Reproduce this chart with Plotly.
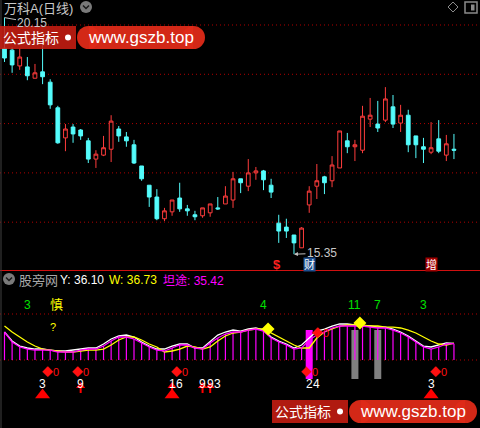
import plotly.graph_objects as go

W, H = 480, 428

# ---------------- data ----------------
idx = list(range(60))
opens = [19.53, 19.49, 19.17, 19.15, 18.92, 19.05, 18.84, 18.32, 17.71, 17.93,
         17.87, 17.65, 17.28, 17.36, 17.48, 17.89, 17.73, 17.57, 17.14, 16.75,
         16.51, 16.07, 16.21, 16.49, 16.27, 16.15, 16.13, 16.19, 16.29, 16.37,
         16.45, 16.88, 16.73, 17.00, 17.04, 16.75, 15.98, 15.90, 15.74, 15.48,
         16.35, 16.73, 16.92, 16.84, 17.10, 17.65, 17.53, 17.46, 18.09, 17.99,
         18.07, 18.34, 18.01, 18.17, 17.75, 17.53, 17.42, 17.69, 17.36, 17.48]
highs = [20.15, 19.55, 19.53, 19.35, 19.21, 19.59, 18.90, 18.36, 17.99, 17.99,
         17.89, 17.71, 17.46, 17.75, 18.17, 17.95, 17.83, 17.67, 17.14, 16.75,
         16.67, 16.29, 16.45, 16.80, 16.35, 16.23, 16.29, 16.37, 16.51, 16.73,
         17.02, 16.88, 17.28, 17.12, 17.06, 16.88, 16.15, 16.07, 15.74, 15.90,
         16.73, 17.18, 16.94, 17.34, 17.85, 17.81, 17.67, 18.36, 18.52, 18.46,
         18.74, 18.58, 18.38, 18.28, 17.75, 17.71, 18.03, 18.07, 17.77, 17.79]
lows = [19.25, 19.03, 19.09, 18.88, 18.92, 18.80, 18.30, 17.59, 17.44, 17.61,
        17.67, 17.20, 17.10, 17.34, 17.22, 17.63, 17.53, 17.18, 16.84, 16.31,
        16.04, 16.02, 16.13, 16.21, 16.13, 16.04, 16.09, 16.11, 16.25, 16.37,
        16.29, 16.59, 16.63, 16.86, 16.65, 16.49, 15.58, 15.68, 15.35, 15.48,
        16.19, 16.47, 16.57, 16.71, 17.10, 17.40, 17.24, 17.40, 17.93, 17.83,
        18.03, 17.91, 17.83, 17.42, 17.30, 17.20, 17.38, 17.40, 17.24, 17.28]
closes = [19.33, 19.19, 19.35, 18.97, 19.03, 18.95, 18.38, 17.61, 17.89, 17.79,
          17.75, 17.28, 17.38, 17.51, 18.05, 17.75, 17.65, 17.20, 16.88, 16.51,
          16.07, 16.23, 16.45, 16.27, 16.23, 16.11, 16.29, 16.37, 16.27, 16.53,
          16.88, 16.80, 17.00, 17.04, 16.86, 16.61, 15.82, 15.82, 15.58, 15.88,
          16.63, 16.84, 16.80, 17.16, 17.85, 17.53, 17.57, 18.15, 18.17, 17.91,
          18.50, 17.99, 18.17, 17.57, 17.57, 17.48, 17.51, 17.44, 17.59, 17.46]
price_grid = [20, 19, 18, 17, 16]
high_label = 20.15
low_label = 15.35

line_Y = [60.9, 41.3, 30.4, 26.1, 23.9, 23.9, 21.7, 19.6, 19.6, 21.7, 23.9, 26.1, 26.1, 34.8, 45.7,
          52.2, 54.3, 50.0, 39.1, 30.4, 23.9, 23.9, 30.4, 34.8, 34.8, 26.1, 26.1, 41.3, 54.3, 60.9,
          65.2, 63.0, 67.4, 69.6, 65.2, 50.0, 41.3, 34.8, 26.1, 32.6, 47.8, 63.0, 67.4, 73.9, 78.3,
          78.3, 76.1, 73.9, 73.9, 71.7, 71.7, 67.4, 60.9, 52.2, 41.3, 30.4, 28.3, 32.6, 37.0, 36.10]
line_W = [73.9, 60.9, 50.0, 39.1, 30.4, 23.9, 21.7, 19.6, 17.4, 17.4, 19.6, 21.7, 21.7, 23.9, 32.6,
          43.5, 50.0, 50.0, 43.5, 34.8, 28.3, 17.4, 19.6, 23.9, 30.4, 28.3, 23.9, 28.3, 41.3, 52.2,
          58.7, 60.9, 65.2, 67.4, 67.4, 58.7, 50.0, 41.3, 32.6, 26.1, 26.1, 47.8, 60.9, 67.4, 73.9,
          76.1, 76.1, 76.1, 73.9, 73.9, 71.7, 71.7, 69.6, 65.2, 58.7, 50.0, 41.3, 34.8, 32.6, 36.73]
line_T = [60.9, 39.1, 28.3, 23.9, 21.7, 21.7, 21.7, 17.4, 17.4, 17.4, 21.7, 23.9, 23.9, 30.4, 41.3,
          50.0, 50.0, 45.7, 37.0, 28.3, 21.7, 19.6, 26.1, 32.6, 32.6, 26.1, 23.9, 37.0, 47.8, 56.5,
          60.9, 60.9, 65.2, 67.4, 63.0, 47.8, 39.1, 32.6, 23.9, 26.1, 43.5, 54.3, 60.9, 69.6, 73.9,
          73.9, 73.9, 73.9, 71.7, 69.6, 69.6, 65.2, 58.7, 50.0, 39.1, 28.3, 23.9, 28.3, 34.8, 35.42]
ind_levels = [100, 0]

mag_bar_x = [40]
gray_bar_x = [46, 49]
bar_top = 65.2
bar_bottom = -41.3

green_x = [3, 34, 46, 49, 55]
green_txt = ["3", "4", "11", "7", "3"]
green_v = 119.6

sig_x = [6, 10, 23, 40, 57]
sig_v = -26.1
white_x = [5, 10, 22, 23, 26, 27, 28, 40, 41, 56]
white_txt = ["3", "9", "1", "6", "9", "9", "3", "2", "4", "3"]
white_v = -52.2
tri_x = [5, 22, 56]
tri_v = -76.1
arrow_x = [10, 22, 26, 27]
arrow_v = -58.7
ydiam_x = [34.6, 46.65]
ydiam_v = [67.4, 80.4]

# ---------------- helpers ----------------
def px(x):
    return x / W


def py(y):
    return 1 - y / H


CYAN = "#54fcfc"
RED = "#ff3c3c"
GRID = "#b00000"
FONT = "Liberation Sans, Noto Sans CJK SC, sans-serif"

fig = go.Figure()

fig.add_trace(go.Candlestick(
    x=idx, open=opens, high=highs, low=lows, close=closes,
    increasing=dict(line=dict(color=RED, width=1), fillcolor="#000000"),
    decreasing=dict(line=dict(color=CYAN, width=1), fillcolor=CYAN),
    whiskerwidth=0, xaxis="x", yaxis="y", showlegend=False, hoverinfo="skip"))

# sticks
xs, ys = [], []
for i, v in zip(idx, line_T):
    xs += [i, i, None]
    ys += [0, v, None]
fig.add_trace(go.Scatter(x=xs, y=ys, mode="lines", line=dict(color="#ff00ff", width=1.2),
                         xaxis="x2", yaxis="y2", showlegend=False, hoverinfo="skip"))
fig.add_trace(go.Bar(x=mag_bar_x, y=[bar_top - bar_bottom] * len(mag_bar_x), base=bar_bottom,
                     width=0.92, marker=dict(color="#ff00ff", line=dict(width=0)),
                     xaxis="x2", yaxis="y2", showlegend=False, hoverinfo="skip"))
fig.add_trace(go.Bar(x=gray_bar_x, y=[bar_top - bar_bottom] * len(gray_bar_x), base=bar_bottom,
                     width=0.92, marker=dict(color="#808080", line=dict(width=0)),
                     xaxis="x2", yaxis="y2", showlegend=False, hoverinfo="skip"))
fig.add_trace(go.Scatter(x=idx, y=line_Y, mode="lines", line=dict(color="#ffffff", width=1.3),
                         xaxis="x2", yaxis="y2", showlegend=False, hoverinfo="skip"))
fig.add_trace(go.Scatter(x=idx, y=line_W, mode="lines", line=dict(color="#ffff00", width=1.3),
                         xaxis="x2", yaxis="y2", showlegend=False, hoverinfo="skip"))
fig.add_trace(go.Scatter(x=idx, y=line_T, mode="lines", line=dict(color="#ff00ff", width=1.3),
                         xaxis="x2", yaxis="y2", showlegend=False, hoverinfo="skip"))
# yellow diamonds
fig.add_trace(go.Scatter(x=ydiam_x, y=ydiam_v, mode="markers",
                         marker=dict(symbol="diamond", size=10, color="#ffff00"),
                         xaxis="x2", yaxis="y2", showlegend=False, hoverinfo="skip"))
# red triangles
fig.add_trace(go.Scatter(x=tri_x, y=[tri_v] * len(tri_x), mode="markers",
                         marker=dict(symbol="triangle-up", size=13, color="#ff0000"),
                         xaxis="x2", yaxis="y2", showlegend=False, hoverinfo="skip"))
# small arrows (stem + head)
axs, ays = [], []
for i in arrow_x:
    axs += [i, i, None]
    ays += [arrow_v, arrow_v - 13, None]
fig.add_trace(go.Scatter(x=axs, y=ays, mode="lines", line=dict(color="#ff0000", width=2),
                         xaxis="x2", yaxis="y2", showlegend=False, hoverinfo="skip"))
fig.add_trace(go.Scatter(x=arrow_x, y=[arrow_v + 2] * len(arrow_x), mode="markers",
                         marker=dict(symbol="triangle-up", size=8, color="#ff0000"),
                         xaxis="x2", yaxis="y2", showlegend=False, hoverinfo="skip"))

shapes = []
for p in price_grid:
    shapes.append(dict(type="line", xref="paper", yref="y", x0=0, x1=1, y0=p, y1=p,
                       line=dict(color=GRID, width=1, dash="1px,3px"), layer="below"))
for v in ind_levels:
    shapes.append(dict(type="line", xref="paper", yref="y2", x0=0, x1=1, y0=v, y1=v,
                       line=dict(color=GRID, width=1, dash="1px,3px"), layer="below"))
# separator and left border
shapes.append(dict(type="line", xref="paper", yref="paper", x0=0, x1=1, y0=py(270.5), y1=py(270.5),
                   line=dict(color="#d01010", width=1)))
shapes.append(dict(type="line", xref="paper", yref="paper", x0=px(1), x1=px(1), y0=0, y1=1,
                   line=dict(color="#404040", width=1)))


def circ(cx, cy, r, **kw):
    shapes.append(dict(type="circle", xref="paper", yref="paper",
                       x0=px(cx - r), x1=px(cx + r), y0=py(cy + r), y1=py(cy - r), **kw))


def rect(x0, y0, x1, y1, **kw):
    shapes.append(dict(type="rect", xref="paper", yref="paper",
                       x0=px(x0), x1=px(x1), y0=py(y1), y1=py(y0), **kw))


def pline(pts, color, width=1.5):
    path = "M" + " L".join(f"{px(a)},{py(b)}" for a, b in pts)
    shapes.append(dict(type="path", xref="paper", yref="paper", path=path,
                       line=dict(color=color, width=width)))


# icons
circ(86, 7, 6, fillcolor="#7a7a7a", line=dict(width=0))
pline([(83, 5.5), (86, 8.5), (89, 5.5)], "#1a1a1a", 1.5)
circ(9, 279, 6, fillcolor="#7a7a7a", line=dict(width=0))
pline([(6, 277.5), (9, 280.5), (12, 277.5)], "#1a1a1a", 1.5)
pline([(453, 2), (458, 7), (453, 12), (448, 7), (453, 2)], "#8a8a8a", 1)
rect(465, 2, 477, 13, line=dict(color="#8a8a8a", width=1.5), fillcolor="rgba(0,0,0,0)")
rect(471, 4.5, 474.5, 10.5, line=dict(width=0), fillcolor="#8a8a8a")


# watermarks
def watermark(x0, y0):
    rect(x0, y0, x0 + 76, y0 + 23, fillcolor="rgba(200,30,18,0.88)", line=dict(width=0))
    circ(x0 + 68, y0 + 11.5, 3, fillcolor="#ffffff", line=dict(width=0))
    rect(x0 + 89, y0, x0 + 193, y0 + 23, fillcolor="rgba(222,42,24,0.95)", line=dict(width=0))
    circ(x0 + 88.5, y0 + 11.5, 11.5, fillcolor="rgba(222,42,24,0.95)", line=dict(width=0))
    circ(x0 + 193.5, y0 + 11.5, 11.5, fillcolor="rgba(222,42,24,0.95)", line=dict(width=0))


watermark(0, 26)
watermark(272, 400)

ann = []


def ptext(x, y, t, color, size, anchor="left", family=FONT):
    ann.append(dict(xref="paper", yref="paper", x=px(x), y=py(y), text=t, showarrow=False,
                    xanchor=anchor, yanchor="middle", font=dict(color=color, size=size, family=family)))


def dtext(x, y, t, color, size, xr="x2", yr="y2"):
    ann.append(dict(xref=xr, yref=yr, x=x, y=y, text=t, showarrow=False, xanchor="center",
                    yanchor="middle", font=dict(color=color, size=size, family=FONT)))


ptext(2, 8, "万科A(日线)", "#c8c8c8", 13)
ptext(17, 280, "股旁网", "#a8a8a8", 13)
ptext(58, 280, f"Y: {line_Y[-1]:.2f}", "#ffffff", 12)
ptext(107, 280, f"W: {line_W[-1]:.2f}", "#ffff00", 12)
ptext(161, 280, f"坦途: {line_T[-1]:.2f}", "#ff00ff", 12)

for x0, y0 in [(0, 26), (272, 400)]:
    ptext(x0 + 31, y0 + 11.5, "公式指标", "#ffffff", 14, "center")
    ptext(x0 + 141, y0 + 11.5, "www.gszb.top", "#ffffff", 17, "center")

# price labels
ann.append(dict(xref="x", yref="y", x=0, y=high_label, text=f"{high_label:.2f}", showarrow=True,
                ax=28, ay=5, arrowhead=0, arrowwidth=1, arrowcolor="#c0c0c0", standoff=0,
                font=dict(color="#c8c8c8", size=12, family=FONT)))
ann.append(dict(xref="x", yref="y", x=38, y=low_label, text=f"{low_label:.2f}", showarrow=True,
                ax=28, ay=-1, arrowhead=2, arrowsize=0.8, arrowwidth=1, arrowcolor="#c0c0c0",
                standoff=0, font=dict(color="#c8c8c8", size=12, family=FONT)))
dtext(35.8, 15.15, "<b>$</b>", "#ff2020", 13, "x", "y")
ann.append(dict(xref="x", yref="y", x=40, y=15.14, text="财", showarrow=False, bgcolor="#1d4f8f",
                borderpad=0, font=dict(color="#ffffff", size=11, family=FONT)))
ann.append(dict(xref="x", yref="y", x=56, y=15.14, text="增", showarrow=False, bgcolor="#a00000",
                borderpad=0, font=dict(color="#ffffff", size=11, family=FONT)))

for x, t in zip(green_x, green_txt):
    dtext(x, green_v, t, "#00e000", 12)
dtext(6.8, 121.7, "慎", "#ffff00", 13)
dtext(6.4, 71.7, "?", "#ffff00", 11)
for x in sig_x:
    dtext(x, sig_v, "◆0", "#ff1010", 11)
dtext(41.5, 58.7, "◆0", "#ff1010", 11)
for x, t in zip(white_x, white_txt):
    dtext(x, white_v, t, "#ffffff", 12)

fig.update_layout(
    width=W, height=H, margin=dict(l=0, r=0, t=0, b=0),
    paper_bgcolor="#000000", plot_bgcolor="#000000",
    showlegend=False, barmode="overlay", boxgap=0.3,
    xaxis=dict(domain=[0, 1], range=[-0.59, 62.42], visible=False, anchor="y",
               rangeslider=dict(visible=False)),
    yaxis=dict(domain=[1 - 270 / H, 1], range=[15.030, 20.507], visible=False, anchor="x"),
    xaxis2=dict(domain=[0, 1], range=[-0.59, 62.42], visible=False, anchor="y2"),
    yaxis2=dict(domain=[0, 1 - 271 / H], range=[-147.8, 193.5], visible=False, anchor="x2"),
    shapes=shapes, annotations=ann,
)

fig.write_html("out.html", config={"displayModeBar": False},
               post_script="document.body.style.margin='0';document.body.style.overflow='hidden';")
